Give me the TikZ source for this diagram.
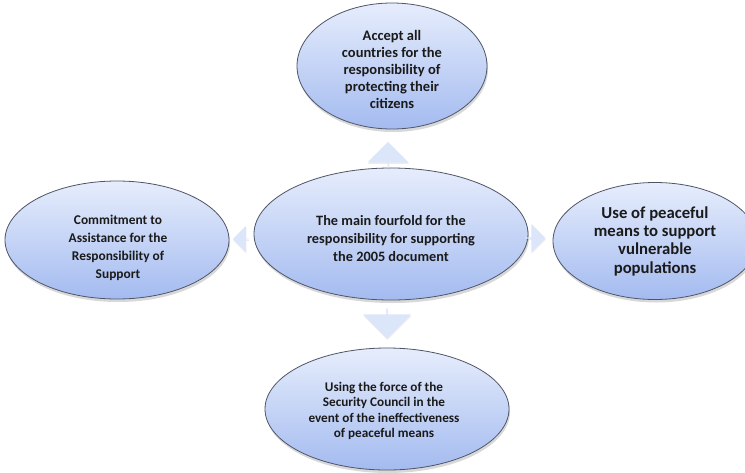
\documentclass[tikz,border=0pt]{standalone}
\usepackage{fontspec}
\setmainfont{Carlito}
\usetikzlibrary{shapes.geometric,shapes.arrows,shadows}
\definecolor{elltop}{HTML}{E6EDFC}
\definecolor{ellbot}{HTML}{A4BBF0}
\definecolor{ellline}{HTML}{4F5566}
\definecolor{arrfill}{HTML}{DCE6FB}
\definecolor{txt}{HTML}{1A1A1A}
\tikzset{
  bubble/.style={ellipse, draw=ellline, line width=0.8pt, top color=elltop, bottom color=ellbot,
    inner sep=0pt,
    drop shadow={shadow xshift=1pt, shadow yshift=-3pt, opacity=0.25, fill=black!60}},
  btext/.style={inner sep=0pt, align=center, text=txt},
  blockarrow/.style={single arrow, fill=arrfill, draw=none, inner sep=0pt,
    drop shadow={shadow xshift=0.5pt, shadow yshift=-1.5pt, opacity=0.15, fill=black!50}}
}
\begin{document}
\begin{tikzpicture}[x=1pt,y=-1pt]
\useasboundingbox[fill=white] (0,0) rectangle (745,472);
\node[bubble, minimum width=190pt, minimum height=126pt] (top) at (392,66) {};
\node[btext, font=\bfseries\fontsize{14.5}{16.8}\selectfont] (top-t) at (392,69.5)
  {Accept all\\countries for the\\responsibility of\\protecting their\\citizens};
\node[bubble, minimum width=274pt, minimum height=132pt] (center) at (391,234) {};
\node[btext, font=\bfseries\fontsize{14.3}{18}\selectfont] (center-t) at (391,239)
  {The main fourfold for the\\responsibility for supporting\\the 2005 document};
\node[bubble, minimum width=224pt, minimum height=118pt] (left) at (117,240) {};
\node[btext, font=\bfseries\fontsize{13.4}{18}\selectfont] (left-t) at (118,248)
  {Commitment to\\Assistance for the\\Responsibility of\\Support};
\node[bubble, minimum width=204pt, minimum height=117pt] (right) at (655,241) {};
\node[btext, font=\bfseries\fontsize{16.7}{18.3}\selectfont] (right-t) at (655,241)
  {Use of peaceful\\means to support\\vulnerable\\populations};
\node[bubble, minimum width=244pt, minimum height=122pt] (bottom) at (387,409) {};
\node[btext, font=\bfseries\fontsize{13.2}{15.3}\selectfont] (bottom-t) at (384,411)
  {Using the force of the\\Security Council in the\\event of the ineffectiveness\\of peaceful means};
\node[blockarrow, rotate=90, minimum height=26pt, minimum width=41pt, single arrow head extend=8pt] (aup) at (388,155) {};
\node[blockarrow, rotate=-90, minimum height=30pt, minimum width=48pt, single arrow head extend=9pt] (adown) at (387,323) {};
\node[blockarrow, rotate=180, minimum height=16pt, minimum width=26pt, single arrow head extend=6pt] (aleft) at (241,239) {};
\node[blockarrow, minimum height=20pt, minimum width=28pt, single arrow head extend=5pt] (aright) at (535,238) {};
\end{tikzpicture}
\end{document}
